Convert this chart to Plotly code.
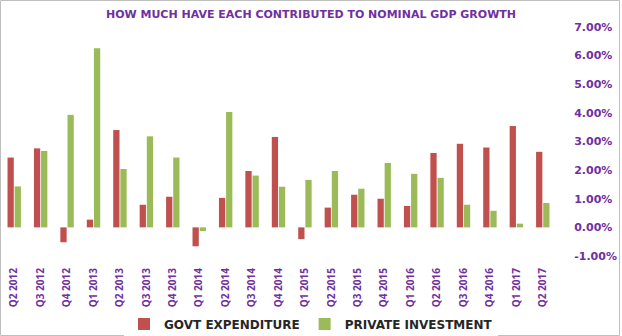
import plotly.graph_objects as go

quarters = ["Q2 2012", "Q3 2012", "Q4 2012", "Q1 2013", "Q2 2013", "Q3 2013", "Q4 2013",
            "Q1 2014", "Q2 2014", "Q3 2014", "Q4 2014", "Q1 2015", "Q2 2015", "Q3 2015",
            "Q4 2015", "Q1 2016", "Q2 2016", "Q3 2016", "Q4 2016", "Q1 2017", "Q2 2017"]
govt_expenditure = [2.44, 2.76, -0.52, 0.27, 3.40, 0.79, 1.07, -0.66, 1.03, 1.97, 3.16, -0.41,
                    0.69, 1.14, 1.00, 0.75, 2.60, 2.92, 2.79, 3.54, 2.64]
private_investment = [1.43, 2.67, 3.93, 6.26, 2.04, 3.18, 2.44, -0.13, 4.03, 1.81, 1.42, 1.66,
                      1.97, 1.35, 2.25, 1.87, 1.73, 0.79, 0.58, 0.13, 0.85]
y_ticks = [-1, 0, 1, 2, 3, 4, 5, 6, 7]

PURPLE = "#7030A0"
WIDE = "DejaVu Sans"
NARROW = "Open Sans"

fig = go.Figure()
fig.add_trace(go.Bar(x=quarters, y=govt_expenditure, name="GOVT EXPENDITURE",
                     marker=dict(color="#C0504D", line=dict(width=0))))
fig.add_trace(go.Bar(x=quarters, y=private_investment, name="PRIVATE INVESTMENT",
                     marker=dict(color="#9BBB59", line=dict(width=0))))

W, H = 622, 336
ml, mr, mt, mb = 1, 66, 27, 80
pw = W - ml - mr
ph = H - mt - mb

def px_x(p):
    return (p - ml) / pw

def px_y(p):
    return 1 - (p - mt) / ph

fig.update_layout(
    width=W, height=H,
    margin=dict(l=ml, r=mr, t=mt, b=mb, pad=0, autoexpand=False),
    paper_bgcolor="white", plot_bgcolor="white",
    barmode="group", bargap=0.46, bargroupgap=0.12,
    font=dict(family=WIDE, color=PURPLE),
    title=dict(text="<b>HOW MUCH HAVE EACH CONTRIBUTED TO NOMINAL GDP GROWTH</b>",
               x=0.5, xref="container", xanchor="center",
               y=1 - 14 / H, yref="container", yanchor="middle",
               font=dict(family=WIDE, size=11, color=PURPLE)),
    showlegend=True,
    legend=dict(orientation="h", x=0.5, xref="container", xanchor="center",
                y=1 - 324 / H, yref="container", yanchor="middle",
                font=dict(family=WIDE, size=12, color="#262626", weight="bold"),
                itemwidth=30, traceorder="normal"),
    xaxis=dict(type="category", tickangle=-90, showgrid=False, showline=False,
               zeroline=False, ticks="outside", ticklen=7, tickcolor="rgba(0,0,0,0)",
               automargin=False,
               tickfont=dict(family=NARROW, size=10, color=PURPLE, weight="bold")),
    yaxis=dict(side="right", range=[-1, 7], tickvals=y_ticks,
               ticktext=[f"{v:.2f}%" for v in y_ticks],
               showgrid=False, zeroline=False, showline=False, automargin=False,
               ticks="outside", ticklen=15, tickcolor="rgba(0,0,0,0)",
               tickfont=dict(family=WIDE, size=11, color=PURPLE, weight="bold")),
    shapes=[dict(type="rect", xref="paper", yref="paper",
                 x0=px_x(0.5), x1=px_x(619.5), y0=px_y(335.5), y1=px_y(0.5),
                 line=dict(color="#BFBFBF", width=1), layer="below")],
)

fig.write_html("out.html")
